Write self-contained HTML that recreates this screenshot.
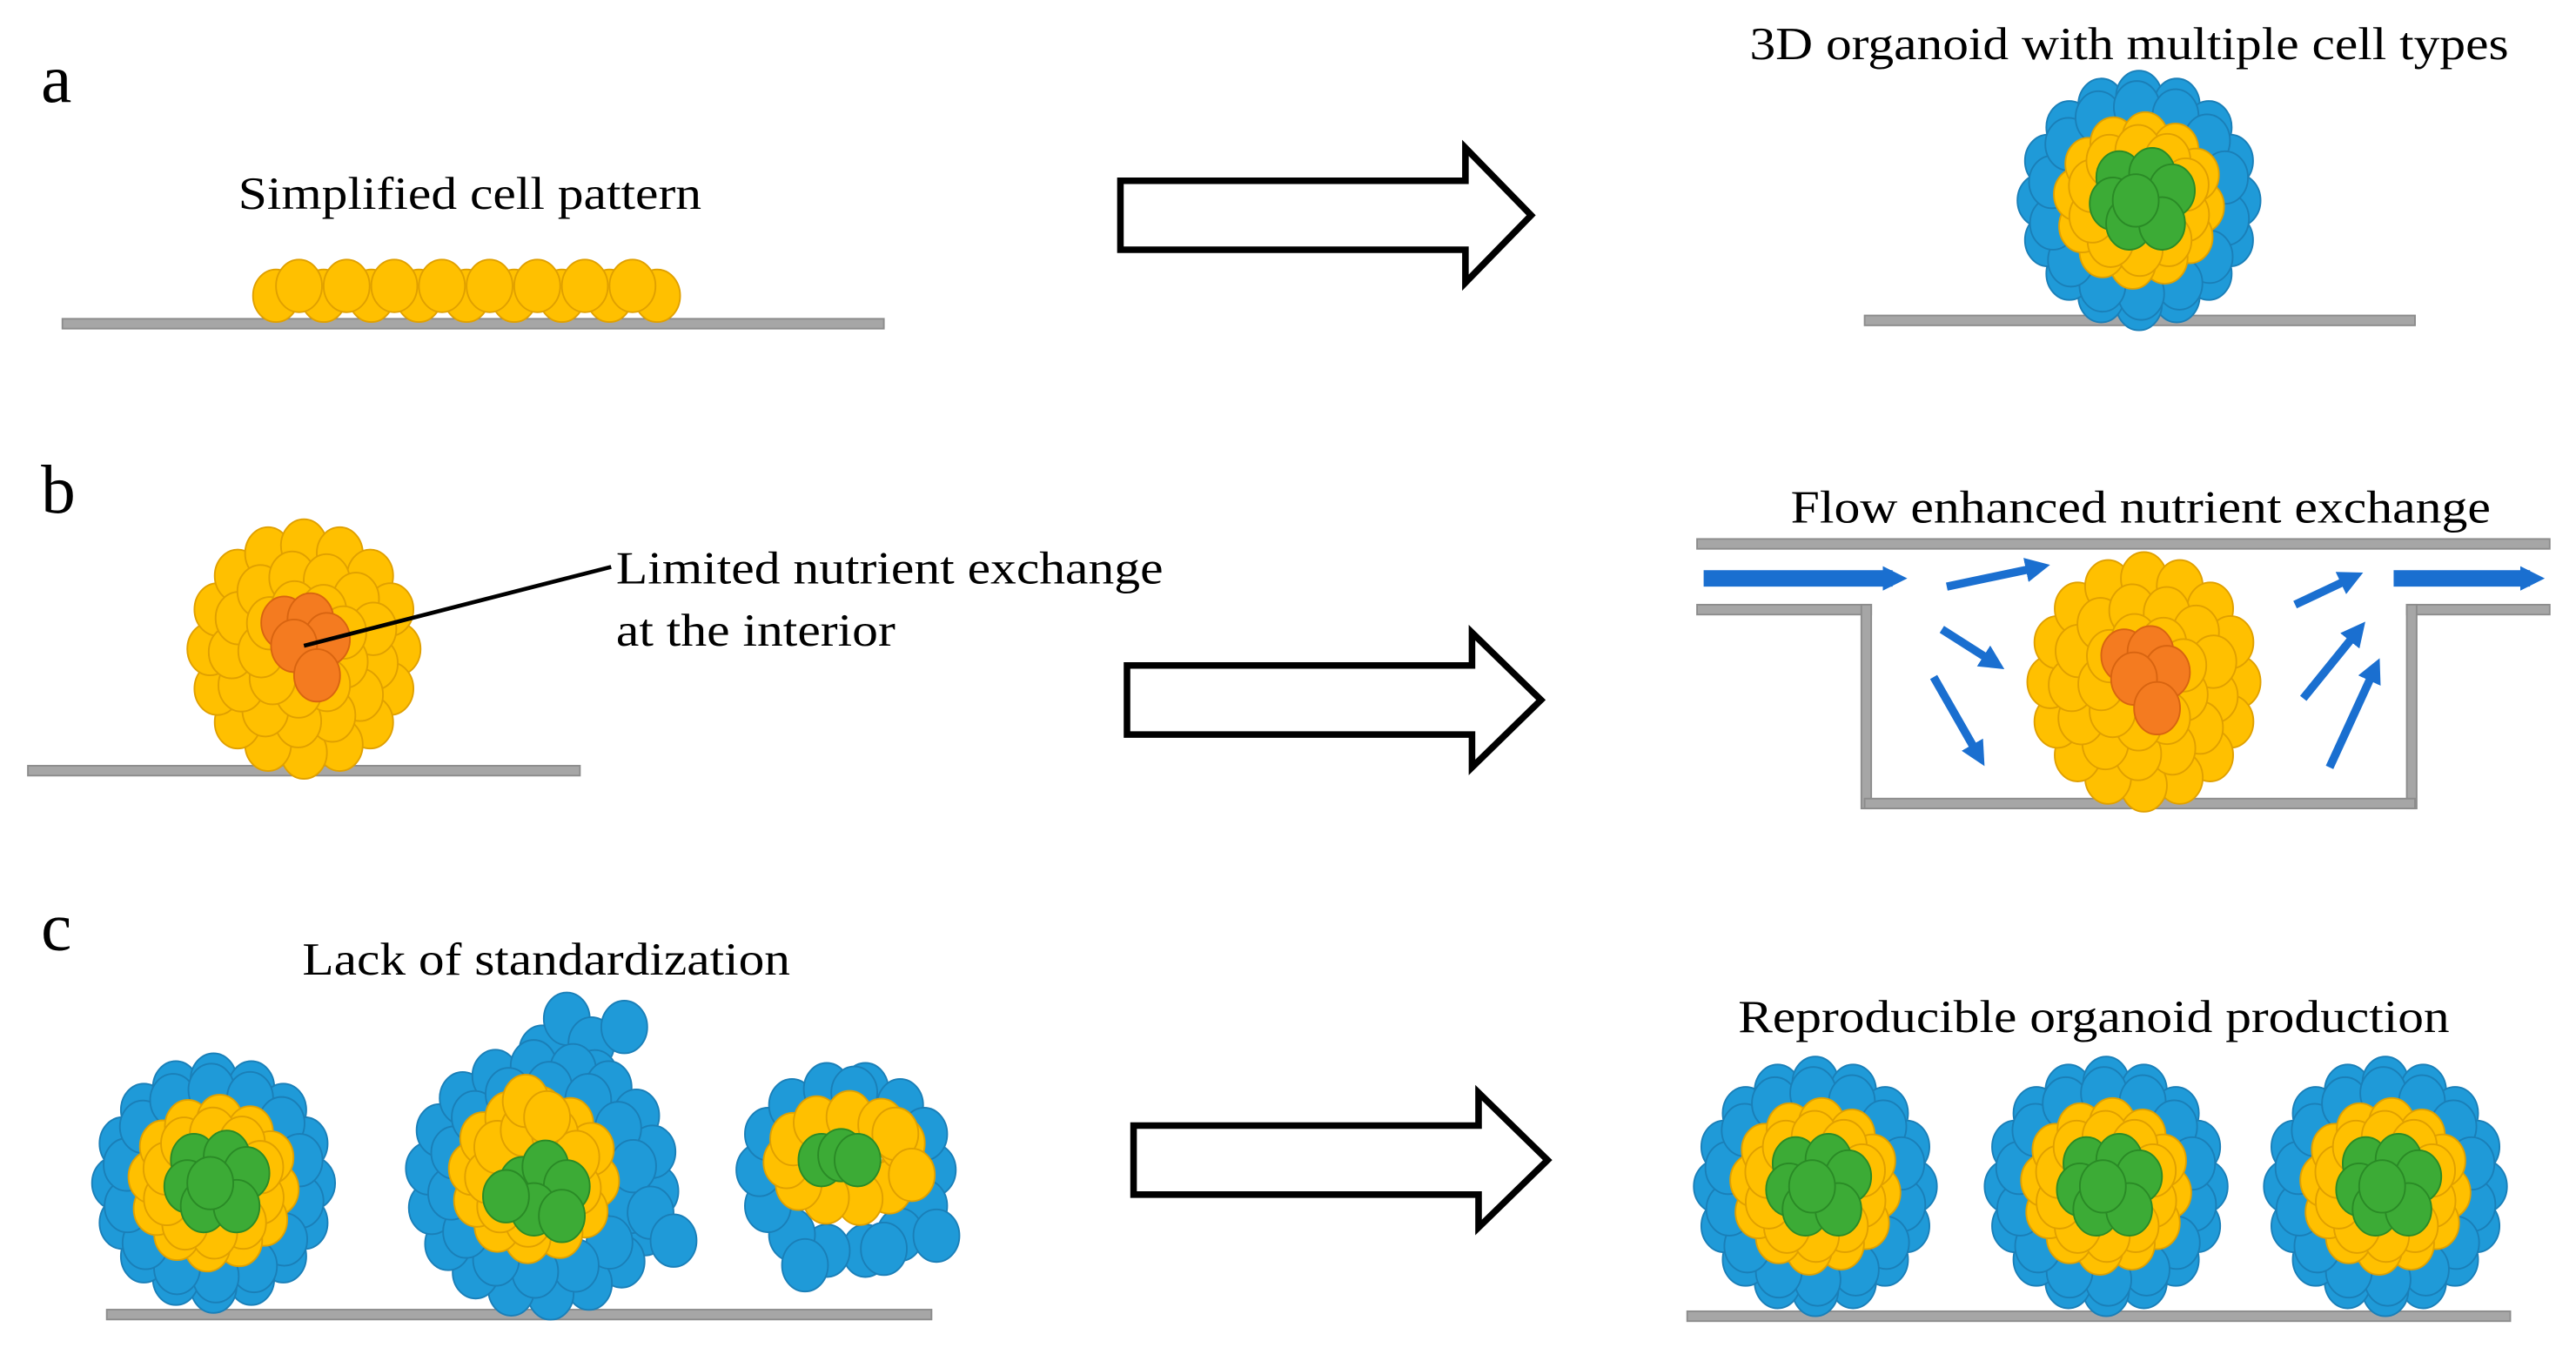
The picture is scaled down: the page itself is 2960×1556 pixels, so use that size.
<!DOCTYPE html>
<html><head><meta charset="utf-8"><style>
html,body{margin:0;padding:0;background:#fff;}
svg{display:block;}
text{font-family:"Liberation Serif",serif;fill:#000;}
</style></head><body>
<svg id="s" width="2960" height="1556" viewBox="0 0 1568 824" preserveAspectRatio="none" xmlns="http://www.w3.org/2000/svg">
<defs>
<marker id="ah" viewBox="0 0 10 10" refX="6" refY="5" markerWidth="3" markerHeight="3" orient="auto"><path d="M0,0 L10,5 L0,10 z" fill="#1a6fd0"/></marker>
<marker id="ahb" viewBox="0 0 10 10" refX="4" refY="5" markerWidth="1.5" markerHeight="2" orient="auto"><path d="M0,0 L10,5 L0,10 z" fill="#1a6fd0"/></marker>
</defs>
<text x="25" y="62" font-size="42">a</text>
<text x="25" y="312" font-size="42">b</text>
<text x="25" y="578" font-size="42">c</text>
<text x="145" y="127" font-size="28" textLength="282" lengthAdjust="spacingAndGlyphs">Simplified  cell pattern</text>
<text x="1065" y="36" font-size="28" textLength="462" lengthAdjust="spacingAndGlyphs">3D organoid with multiple cell types</text>
<text x="375" y="355" font-size="28" textLength="333" lengthAdjust="spacingAndGlyphs">Limited nutrient exchange</text>
<text x="375" y="393" font-size="28" textLength="170" lengthAdjust="spacingAndGlyphs">at the interior</text>
<text x="1090" y="318" font-size="28" textLength="426" lengthAdjust="spacingAndGlyphs">Flow enhanced nutrient exchange</text>
<text x="184" y="593" font-size="28" textLength="297" lengthAdjust="spacingAndGlyphs">Lack of standardization</text>
<text x="1058" y="628" font-size="28" textLength="433" lengthAdjust="spacingAndGlyphs">Reproducible organoid production</text>
<g fill="#a6a6a6" stroke="#8c8c8c" stroke-width="1">
<rect x="38" y="194" width="500" height="6"/>
<rect x="1135" y="192" width="335" height="6"/>
<rect x="17" y="466" width="336" height="6"/>
<rect x="1033" y="328" width="519" height="6"/>
<rect x="1033" y="368" width="106" height="6"/>
<rect x="1465" y="368" width="87" height="6"/>
<rect x="1133" y="368" width="6" height="124"/>
<rect x="1465" y="368" width="6" height="124"/>
<rect x="1135" y="486" width="335" height="6"/>
<rect x="65" y="797" width="502" height="6"/>
<rect x="1027" y="798" width="501" height="6"/>
</g>
<g fill="#fff" stroke="#000" stroke-width="4" stroke-linejoin="miter">
<polygon points="682,110 892,110 892,90 932,131 892,172 892,152 682,152"/>
<polygon points="686,405 896,405 896,385 938,426 896,467 896,447 686,447"/>
<polygon points="690,685 900,685 900,665 942,706 900,747 900,727 690,727"/>
</g>
<g id="cells"></g>
<line x1="185" y1="393" x2="372" y2="345" stroke="#000" stroke-width="2.5"/>
<g stroke="#1a6fd0" stroke-linecap="butt">
<line x1="1037" y1="352" x2="1152" y2="352" stroke-width="10" marker-end="url(#ahb)"/>
<line x1="1457" y1="352" x2="1540" y2="352" stroke-width="10" marker-end="url(#ahb)"/>
<g stroke-width="5" marker-end="url(#ah)">
<line x1="1185" y1="357" x2="1242" y2="345"/>
<line x1="1182" y1="383" x2="1215" y2="404"/>
<line x1="1177" y1="412" x2="1205" y2="461"/>
<line x1="1397" y1="368" x2="1433" y2="351"/>
<line x1="1402" y1="425" x2="1436" y2="383"/>
<line x1="1418" y1="467" x2="1446" y2="406"/>
</g>
</g>
</svg>
<script>
var g=document.getElementById('cells'),NS='http://www.w3.org/2000/svg';
var C={b:['#1f9ad8','#1a7fb8'],y:['#ffc000','#e0a000'],g:['#3cab36','#2a8a26'],o:['#f47b20','#d86410']};
function e(x,y,t,rx,ry){var el=document.createElementNS(NS,'ellipse');el.setAttribute('cx',x);el.setAttribute('cy',y);el.setAttribute('rx',rx||14);el.setAttribute('ry',ry||16);el.setAttribute('fill',C[t][0]);el.setAttribute('stroke',C[t][1]);el.setAttribute('stroke-width','1');g.appendChild(el);}
function ring(cx,cy,R,n,t,ph,sx,sy){for(var i=0;i<n;i++){var a=ph+i*2*Math.PI/n;e(cx+R*Math.cos(a)*(sx||1),cy+R*Math.sin(a)*(sy||1),t);}}
function org(cx,cy){
 ring(cx,cy,60,16,'b',0,1,1.05);ring(cx,cy,54,14,'b',0.2,1,1.05);
 ring(cx,cy,38,12,'y',0.1);ring(cx,cy,30,10,'y',0.3);
 e(cx-12,cy-14,'g');e(cx+8,cy-16,'g');e(cx+20,cy-6,'g');e(cx-16,cy+2,'g');e(cx-6,cy+14,'g');e(cx+14,cy+14,'g');e(cx-2,cy,'g');
}
function yorg(cx,cy){
 ring(cx,cy,60,16,'y',0,0.95,1.05);ring(cx,cy,44,13,'y',0.2);ring(cx,cy,26,9,'y',0.3);e(cx,cy,'y');
 e(cx-12,cy-16,'o');e(cx+4,cy-18,'o');e(cx+14,cy-6,'o');e(cx-6,cy-2,'o');e(cx+8,cy+16,'o');
}
for(var i=0;i<9;i++){e(168+i*29,180,'y');}
for(var i=0;i<8;i++){e(182+i*29,174,'y');}
org(1302,122);
yorg(185,395);
yorg(1305,415);
org(130,720);
[[330,640],[345,620],[360,635],[380,625],[362,655],[338,665]].forEach(function(p){e(p[0],p[1],'b');});
ring(330,718,66,18,'b',0.1,1.05,1.05);ring(330,718,56,14,'b',0.3);
ring(325,715,38,12,'y',0.1);ring(325,715,28,9,'y',0.3);e(320,670,'y');e(333,680,'y');
e(318,720,'g');e(332,710,'g');e(345,722,'g');e(325,736,'g');e(342,740,'g');e(308,728,'g');
e(396,738,'b');e(410,755,'b');
ring(515,712,48,14,'b',0,1.1,1.05);e(520,665,'b');e(490,770,'b');e(538,760,'b');e(570,752,'b');
ring(515,705,28,11,'y',0.2,1.3,0.9);e(545,690,'y');e(555,715,'y');
e(500,706,'g');e(512,703,'g');e(522,706,'g');
org(1105,722);org(1282,722);org(1452,722);
</script>
</body></html>
